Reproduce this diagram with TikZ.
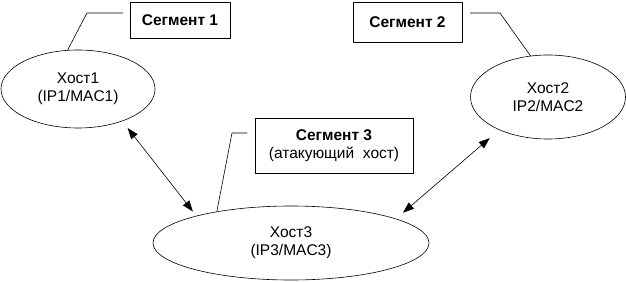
\documentclass[tikz,border=0pt]{standalone}
\usepackage{fontspec}
\setmainfont{Liberation Sans}
\usetikzlibrary{arrows.meta,shapes.geometric}

\begin{document}
\begin{tikzpicture}[x=1pt,y=-1pt,font=\fontsize{15.5}{18}\selectfont,line width=.6pt,
  host/.style={draw,ellipse,inner sep=0pt,align=center},
  segbox/.style={draw,inner sep=0pt,align=center,font=\fontsize{15.5}{18}\selectfont\bfseries},
  link/.style={{Triangle[length=11pt,width=8pt]}-{Triangle[length=11pt,width=8pt]}}]
\useasboundingbox (0,0) rectangle (626,281);
\node[host,minimum width=154pt,minimum height=78pt] (e1) at (78,89){Хост1\\(IP1/MAC1)};
\node[host,minimum width=155pt,minimum height=84pt] (e2) at (548,97){Хост2\\IP2/MAC2};
\node[host,minimum width=276pt,minimum height=74pt] (e3) at (291,243){Хост3\\(IP3/MAC3)};
\node[segbox,minimum width=100pt,minimum height=36pt] (b1) at (180,20){Сегмент 1};
\node[segbox,minimum width=109pt,minimum height=40pt] (b2) at (407.5,22){Сегмент 2};
\node[segbox,minimum width=158pt,minimum height=55pt] (b3) at (334,145.5){Сегмент 3\\\mdseries(атакующий~~хост)};
% leader lines from segment labels
\coordinate (l1) at (123,13);
\coordinate (l2) at (470,13);
\coordinate (l3) at (247,133);
\draw (l1) -- ++(-36,0) -- (e1.105);
\draw (l2) -- ++(30,0) -- (e2.113);
\draw (l3) -- ++(-15,0) -- (e3.157);
% links to the attacking host
\draw[link,shorten <=8.7pt,shorten >=5.5pt] (e1.-36) -- (e3.164.5);
\draw[link,shorten <=12.5pt,shorten >=9.2pt] (e2.214) -- (e3.13);
\end{tikzpicture}
\end{document}
